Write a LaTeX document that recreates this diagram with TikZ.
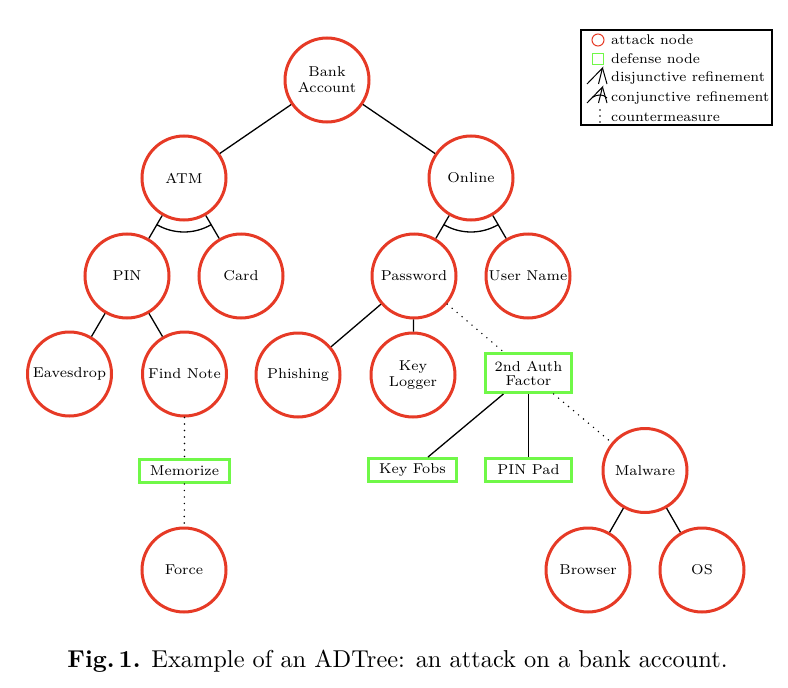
\documentclass[tikz,border=0pt]{standalone}
\usepackage{fontspec}
\usetikzlibrary{calc}
\newfontfamily\sevenrm{lmroman7-regular.otf}
\newfontfamily\tenrm{lmroman10-regular.otf}[BoldFont=lmroman10-bold.otf]
\definecolor{atk}{RGB}{230,58,38}
\definecolor{dfn}{RGB}{112,248,72}
\newcommand{\nodefont}{\sevenrm\fontsize{14.3}{16}\selectfont}
\newcommand{\legfont}{\sevenrm\fontsize{14}{16}\selectfont}
\tikzset{
  attack/.style={circle,draw=atk,line width=3pt,minimum size=84pt,inner sep=0pt,align=center,font=\nodefont},
  defense/.style={rectangle,draw=dfn,line width=3pt,minimum width=86pt,minimum height=23pt,inner sep=2pt,align=center,font=\nodefont},
  edge/.style={line width=1.3pt,black},
  counter/.style={line width=1.6pt,black,dash pattern=on 0pt off 6.5pt,line cap=round},
  legtext/.style={anchor=west,inner sep=0pt,font=\legfont},
}
\begin{document}
\begin{tikzpicture}[x=1pt,y=-1pt]
\useasboundingbox (0,0) rectangle (788,688);
% nodes
\node[attack] (bank) at (327,80) {Bank\\Account};
\node[attack] (atm) at (184,178) {ATM};
\node[attack] (online) at (471,178) {Online};
\node[attack] (pin) at (127,276) {PIN};
\node[attack] (card) at (241,276) {Card};
\node[attack] (password) at (414,276) {Password};
\node[attack] (username) at (528,276) {User Name};
\node[attack] (eaves) at (69.5,374) {Eavesdrop};
\node[attack] (findnote) at (184.5,374) {Find Note};
\node[attack] (phishing) at (298,375) {Phishing};
\node[attack] (keylogger) at (413,375) {Key\\Logger};
\node[defense,minimum height=39pt] (auth) at (528.5,373) {2nd Auth\\[-2pt]Factor};
\node[defense,minimum width=90pt] (memorize) at (184.5,471) {Memorize};
\node[defense,minimum width=88pt] (keyfobs) at (412.5,470) {Key Fobs};
\node[defense] (pinpad) at (528.5,470) {PIN Pad};
\node[attack] (malware) at (645,470.5) {Malware};
\node[attack] (force) at (184,570) {Force};
\node[attack] (browser) at (588,570) {Browser};
\node[attack] (os) at (702,570) {OS};
% edges
\draw[edge] (bank) -- (atm);
\draw[edge] (bank) -- (online);
\draw[edge] (atm) -- (pin);
\draw[edge] (atm) -- (card);
\draw[edge] (online) -- (password);
\draw[edge] (online) -- (username);
\draw[edge] (pin) -- (eaves);
\draw[edge] (pin) -- (findnote);
\draw[edge] (password) -- (phishing);
\draw[edge] (password) -- (keylogger);
\draw[edge] (auth) -- (keyfobs);
\draw[edge] (auth) -- (pinpad);
\draw[edge] (malware) -- (browser);
\draw[edge] (malware) -- (os);
\draw[counter] (password) -- (auth);
\draw[counter] (auth) -- (malware);
\draw[counter] (findnote) -- (memorize);
\draw[counter] (memorize) -- (force);
% conjunctive arcs
\draw[edge] ([shift={(239.8:54pt)}]atm.center) arc[start angle=239.8,end angle=300.2,radius=54pt];
\draw[edge] ([shift={(239.8:54pt)}]online.center) arc[start angle=239.8,end angle=300.2,radius=54pt];
% legend
\node[draw=black,line width=2pt,minimum width=191pt,minimum height=95pt,inner sep=0pt] (legend) at (676,77.5) {};
\node[circle,draw=atk,line width=1pt,minimum size=12pt,inner sep=0pt] (lgatk) at (598,40) {};
\node[rectangle,draw=dfn,line width=1pt,minimum size=11pt,inner sep=0pt] (lgdef) at (598,59) {};
\coordinate (dja) at (602.5,68);
\coordinate (djl) at (587,84);
\coordinate (djm) at (598.5,84);
\coordinate (djr) at (607,84);
\draw[line width=1pt] (djl) -- (dja) -- (djm);
\draw[line width=1pt] (dja) -- (djr);
\coordinate (cja) at (602.5,87);
\coordinate (cjl) at (587,103);
\coordinate (cjm) at (598.5,103);
\coordinate (cjr) at (607,103);
\draw[line width=1pt] (cjl) -- (cja) -- (cjm);
\draw[line width=1pt] (cja) -- (cjr);
\draw[line width=1pt] (592,97.5) .. controls (598,94) and (603,94) .. (607,98);
\coordinate (cmt) at (600,110);
\coordinate (cmb) at (600,124);
\draw[line width=1.6pt,dash pattern=on 0pt off 6pt,line cap=round] (cmt) -- (cmb);
\node[legtext] (t1) at (611,40) {attack node};
\node[legtext] (t2) at (611,59) {defense node};
\node[legtext] (t3) at (611,78) {disjunctive refinement};
\node[legtext] (t4) at (611,98) {conjunctive refinement};
\node[legtext] (t5) at (611,117) {countermeasure};
% caption
\node[font=\tenrm\fontsize{24.4}{28}\selectfont,inner sep=0pt] (caption) at (397.5,661) {\textbf{Fig.\,1.} Example of an ADTree: an attack on a bank account.};
\end{tikzpicture}
\end{document}
